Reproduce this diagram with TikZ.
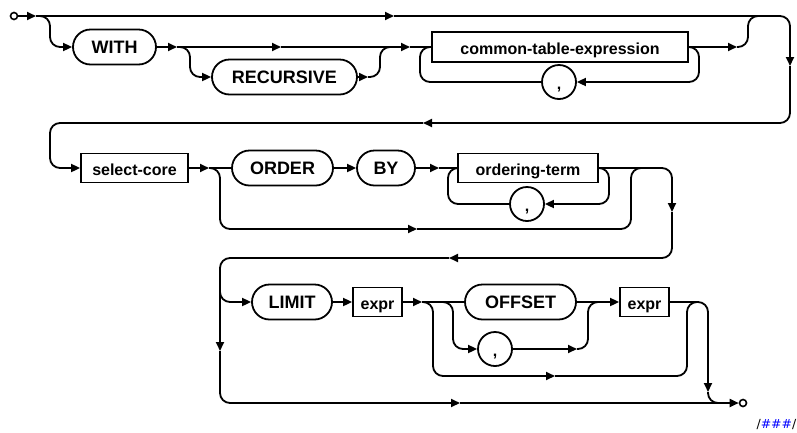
\documentclass[tikz,border=0pt]{standalone}
\usepackage{fontspec}
\setmainfont{Liberation Sans}
\newfontfamily\tagfont{DejaVu Sans}
\usetikzlibrary{arrows.meta}

\begin{document}
\begin{tikzpicture}[x=1pt,y=-1pt,
  rail/.style={line width=1.8pt,rounded corners=10pt},
  railtip/.style={-{Triangle[length=9pt,width=8pt]}},
  kwpill/.style={draw,line width=1.8pt,rounded corners=17.5pt,minimum height=35pt,minimum width=#1,inner sep=0pt,text height=13pt,text depth=0pt,font=\fontsize{18}{20}\selectfont\bfseries},
  ntbox/.style={draw,line width=1.8pt,minimum height=29pt,minimum width=#1,inner sep=0pt,text height=14pt,text depth=0pt,font=\fontsize{16}{18}\selectfont\bfseries},
  commaring/.style={draw,circle,line width=1.8pt,minimum size=34pt,inner sep=0pt,text height=16pt,text depth=2pt,font=\fontsize{16}{18}\selectfont\bfseries},
  endpt/.style={draw,circle,line width=1.6pt,minimum size=7pt,inner sep=0pt,fill=white}]
\useasboundingbox (0,0) rectangle (797,432);
\node[endpt] (start) at (14,16) {};
\node[kwpill=83pt] (with) at (114.5,47) {WITH};
\node[kwpill=145pt] (recursive) at (284.5,77) {RECURSIVE};
\node[ntbox=256pt,minimum height=30pt] (cte) at (560,47) {common-table-expression};
\node[commaring] (comma1) at (559,82) {,};
\node[ntbox=107pt] (selcore) at (134.5,168) {select-core};
\node[kwpill=101pt] (order) at (282.5,168) {ORDER};
\node[kwpill=58pt] (by) at (386,168) {BY};
\node[ntbox=140pt] (ordterm) at (528,168) {ordering-term};
\node[commaring] (comma2) at (527,204) {,};
\node[kwpill=80pt] (limit) at (292,302) {LIMIT};
\node[ntbox=49pt] (expr1) at (377.5,302) {expr};
\node[kwpill=111pt] (offset) at (520.5,302) {OFFSET};
\node[commaring] (comma3) at (495,349) {,};
\node[ntbox=49pt] (expr2) at (644.5,302) {expr};
\node[endpt] (stop) at (743,403) {};
\node[anchor=base west,font=\tagfont\fontsize{12.5}{15}\selectfont] (tag) at (753,428) {/\textcolor{blue}{\#\#\#}/};
\coordinate (t0) at (36,16);
\coordinate (t1) at (394,16);
\coordinate (t2) at (790,66);
\coordinate (t3) at (423,123);
\coordinate (c0) at (50,168);
\coordinate (c1) at (50,47);
\coordinate (t4) at (177,47);
\coordinate (t5) at (281,47);
\coordinate (t6) at (410,47);
\coordinate (c2) at (190,77);
\coordinate (t7) at (368,77);
\coordinate (c3) at (380,47);
\coordinate (m1) at (390,47);
\coordinate (c4) at (699,82);
\coordinate (c5) at (420,47);
\coordinate (t8) at (737,47);
\coordinate (c6) at (748,16);
\coordinate (m3) at (758,16);
\coordinate (t9) at (209,168);
\coordinate (c7) at (220,229);
\coordinate (t10) at (417,229);
\coordinate (c8) at (631,168);
\coordinate (m4) at (641,168);
\coordinate (t11) at (439,168);
\coordinate (c9) at (609,204);
\coordinate (c10) at (448,168);
\coordinate (t12) at (672,212);
\coordinate (t13) at (449,258);
\coordinate (t14) at (220,351);
\coordinate (b3) at (220,290);
\coordinate (t15) at (460,403);
\coordinate (t16) at (422,302);
\coordinate (c11) at (453,349);
\coordinate (c12) at (433,376);
\coordinate (t17) at (555,376);
\coordinate (c13) at (687,302);
\coordinate (m5) at (697,302);
\coordinate (t18) at (577,349);
\coordinate (c14) at (588,302);
\coordinate (m6) at (598,302);
\coordinate (t19) at (708,392);
\coordinate (m7) at (718,403);
\draw[rail,railtip] (start) -- (t0);
\draw[rail,railtip] (t0) -- (t1);
\draw[rail,railtip] (t1) -| (t2);
\draw[rail,railtip] (t2) |- (t3);
\draw[rail,railtip] (t3) -| (c0) -- (selcore.west);
\draw[rail,railtip] (t0) -| (c1) -- (with.west);
\draw[rail,railtip] (with.east) -- (t4);
\draw[rail,railtip] (t4) -- (t5);
\draw[rail,railtip] (t5) -- (t6);
\draw[rail] (t6) -- (cte.west);
\draw[rail,railtip] (t4) -| (c2) -- (recursive.west);
\draw[rail,railtip] (recursive.east) -- (t7);
\draw[rail] (t7) -| (c3) -- (m1);
\draw[rail,railtip] (cte.east) -| (c4) -- (comma1.east);
\draw[rail] (comma1.west) -| (c5) -- (cte.west);
\draw[rail,railtip] (cte.east) -- (t8);
\draw[rail] (t8) -| (c6) -- (m3);
\draw[rail,railtip] (selcore.east) -- (t9);
\draw[rail] (t9) -- (order.west);
\draw[rail,railtip] (t9) -| (c7) -- (t10);
\draw[rail] (t10) -| (c8) -- (m4);
\draw[rail,railtip] (order.east) -- (by.west);
\draw[rail,railtip] (by.east) -- (t11);
\draw[rail] (t11) -- (ordterm.west);
\draw[rail,railtip] (ordterm.east) -| (c9) -- (comma2.east);
\draw[rail] (comma2.west) -| (c10) -- (ordterm.west);
\draw[rail,railtip] (ordterm.east) -| (t12);
\draw[rail,railtip] (t12) |- (t13);
\draw[rail,railtip] (t13) -| (t14);
\draw[rail,railtip] (t14) |- (t15);
\draw[rail,railtip] (t15) -- (stop.west);
\draw[rail,railtip] (b3) |- (limit.west);
\draw[rail,railtip] (limit.east) -- (expr1.west);
\draw[rail,railtip] (expr1.east) -- (t16);
\draw[rail] (t16) -- (offset.west);
\draw[rail,railtip] (t16) -| (c11) -- (comma3.west);
\draw[rail,railtip] (t16) -| (c12) -- (t17);
\draw[rail] (t17) -| (c13) -- (m5);
\draw[rail,railtip] (comma3.east) -- (t18);
\draw[rail] (t18) -| (c14) -- (m6);
\draw[rail,railtip] (offset.east) -- (expr2.west);
\draw[rail,railtip] (expr2.east) -| (t19);
\draw[rail] (t19) |- (m7);
\end{tikzpicture}
\end{document}
